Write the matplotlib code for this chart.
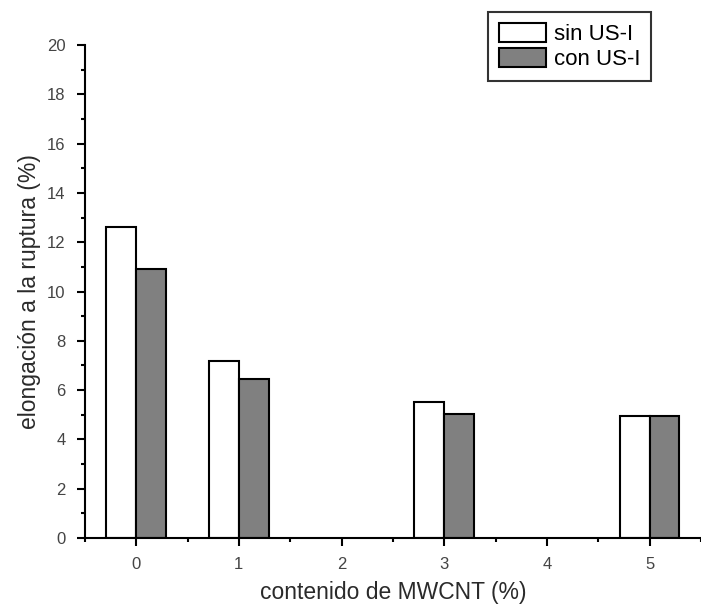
import numpy as np
import matplotlib
matplotlib.use("Agg")
import matplotlib.pyplot as plt
from matplotlib.ticker import MultipleLocator

plt.rcParams['font.family'] = ['Liberation Sans', 'DejaVu Sans']

contenido = [0, 1, 2, 3, 4, 5]
sin_us = [12.6, 7.2, np.nan, 5.5, np.nan, 4.95]
con_us = [10.9, 6.45, np.nan, 5.05, np.nan, 4.95]
labels = ["sin US-I", "con US-I"]

fig = plt.figure(figsize=(7.01, 6.13), dpi=100)
ax = fig.add_axes([0.121, 0.1223, 0.879, 0.8043])

w = 0.29
x = np.array(contenido, dtype=float)
b1 = ax.bar(x - w / 2, sin_us, width=w, color="white", edgecolor="black", linewidth=1.5, label=labels[0])
b2 = ax.bar(x + w / 2, con_us, width=w, color="#808080", edgecolor="black", linewidth=1.5, label=labels[1])

ax.set_xlim(-0.5, 5.5)
ax.set_ylim(0, 20)
ax.xaxis.set_major_locator(MultipleLocator(1))
ax.xaxis.set_minor_locator(MultipleLocator(0.5))
ax.yaxis.set_major_locator(MultipleLocator(2))
ax.yaxis.set_minor_locator(MultipleLocator(1))
ax.spines['top'].set_visible(False)
ax.spines['right'].set_visible(False)
for s in ['left', 'bottom']:
    ax.spines[s].set_linewidth(1.5)
ax.tick_params(which='major', direction='out', length=6, width=1.5, labelsize=12,
               labelcolor='#444444', pad=8)
ax.tick_params(which='minor', direction='out', length=3, width=1.5)

ax.set_xlabel("contenido de MWCNT (%)", fontsize=16.5, color='#2a2a2a', labelpad=6)
ax.set_ylabel("elongación a la ruptura (%)", fontsize=16.5, color='#2a2a2a', labelpad=4)

leg = fig.legend(handles=[b1, b2], labels=labels, loc='upper left',
                 bbox_to_anchor=(488 / 701, 1 - 12 / 613), fontsize=16,
                 frameon=True, fancybox=False, edgecolor='black',
                 handlelength=2.1, handleheight=0.95, handletextpad=0.35,
                 borderpad=0.5, labelspacing=0.1, borderaxespad=0)
leg.get_frame().set_linewidth(1.5)

fig.savefig("out.png", dpi=100)
